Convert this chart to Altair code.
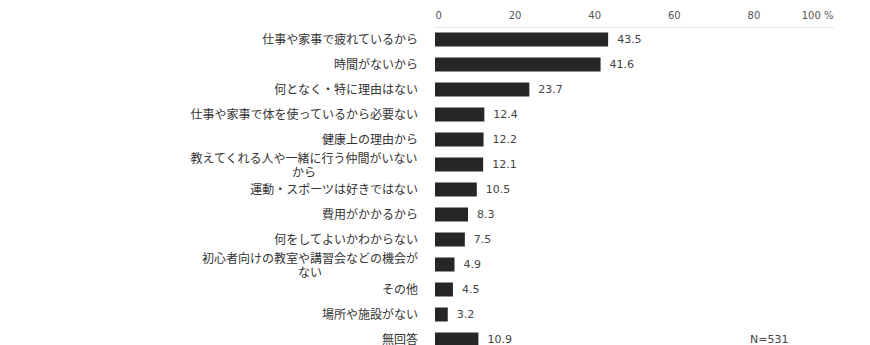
import altair as alt
import pandas as pd

# Reasons for not exercising (multiple answers, %)
categories = [
    "仕事や家事で疲れているから",
    "時間がないから",
    "何となく・特に理由はない",
    "仕事や家事で体を使っているから必要ない",
    "健康上の理由から",
    "教えてくれる人や一緒に行う仲間がいない\nから",
    "運動・スポーツは好きではない",
    "費用がかかるから",
    "何をしてよいかわからない",
    "初心者向けの教室や講習会などの機会が\nない",
    "その他",
    "場所や施設がない",
    "無回答",
]
values = [43.5, 41.6, 23.7, 12.4, 12.2, 12.1, 10.5, 8.3, 7.5, 4.9, 4.5, 3.2, 10.9]
x_ticks = [0, 20, 40, 60, 80, 100]
sample_note = "N=531"

df = pd.DataFrame({"cat": categories, "pct": values})
note_df = pd.DataFrame({"cat": [categories[-1]], "note": [sample_note]})

LABEL_SIZE = 12
NL = "indexof(datum.cat, '\\n')"

y_enc = alt.Y(
    "cat:N",
    sort=categories,
    axis=None,
    scale=alt.Scale(range=[0, 325], paddingInner=0.44, paddingOuter=0.22),
)

x_enc = alt.X(
    "pct:Q",
    scale=alt.Scale(domain=[0, 100], nice=False),
    axis=alt.Axis(
        orient="top",
        values=x_ticks,
        title=None,
        grid=False,
        ticks=False,
        domain=True,
        domainColor="#e3e3e3",
        domainWidth=1,
        labelPadding=7,
        labelFont="DejaVu Sans",
        labelFontSize=10,
        labelColor="#555555",
        labelExpr="datum.value == 100 ? '100 %' : datum.label",
    ),
)

bars = alt.Chart(df).mark_bar(color="#262626").encode(x=x_enc, y=y_enc)

value_text = alt.Chart(df).mark_text(
    align="left",
    baseline="middle",
    dx=9,
    font="DejaVu Sans",
    fontSize=11,
    color="#444444",
).encode(
    x=alt.X("pct:Q"),
    y=y_enc,
    text=alt.Text("pct:Q", format=".1f"),
)

# Category labels: single-line ones right-aligned, wrapped ones centred as a block
cat_text = alt.Chart(df).mark_text(
    baseline="middle",
    font="Noto Sans CJK JP",
    fontSize=LABEL_SIZE,
    lineHeight=14,
    lineBreak="\n",
    color="#333333",
    align=alt.expr(f"{NL} > 0 ? 'center' : 'right'"),
    dx=alt.expr(f"{NL} > 0 ? -(17 + {NL} * {LABEL_SIZE} / 2) : -17"),
    dy=alt.expr(f"{NL} > 0 ? -6 : 0"),
).encode(
    x=alt.value(0),
    y=y_enc,
    text="cat:N",
)

note_text = alt.Chart(note_df).mark_text(
    align="center",
    baseline="middle",
    font="DejaVu Sans",
    fontSize=11,
    color="#444444",
).encode(
    x=alt.datum(84),
    y=y_enc,
    text="note:N",
)

chart = (
    alt.layer(bars, value_text, cat_text, note_text)
    .properties(
        width=398,
        height=318,
        autosize=alt.AutoSizeParams(type="none"),
        padding={"left": 435, "top": 27, "right": 37, "bottom": 0},
        background="white",
    )
    .configure_view(strokeWidth=0)
)

chart.save("out.html", embed_options={"renderer": "svg", "actions": False})
